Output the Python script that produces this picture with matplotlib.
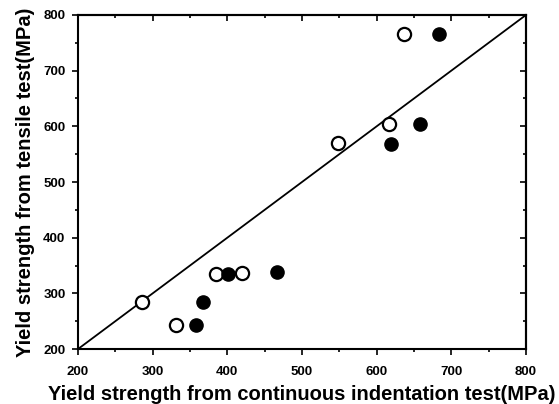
import matplotlib
matplotlib.use("Agg")
import matplotlib.pyplot as plt
from matplotlib.ticker import MultipleLocator

# open circles
open_x = [286, 331, 385, 420, 548, 616, 637]
open_y = [285, 244, 335, 337, 570, 605, 765]
# filled circles
filled_x = [358, 368, 401, 467, 619, 658, 683]
filled_y = [244, 285, 335, 338, 569, 605, 765]
line_ends = [200, 800]

plt.rcParams['font.family'] = ['Liberation Sans', 'DejaVu Sans']
plt.rcParams['font.weight'] = 'bold'

fig = plt.figure(figsize=(5.59, 4.04), dpi=100)
ax = fig.add_axes([0.1395, 0.136, 0.8015, 0.827])

ax.plot(line_ends, line_ends, color='black', lw=1.3)
ax.plot(open_x, open_y, 'o', ms=9.5, mfc='white', mec='black', mew=1.6, ls='none')
ax.plot(filled_x, filled_y, 'o', ms=9.5, mfc='black', mec='black', ls='none')

ax.set_xlim(200, 800)
ax.set_ylim(200, 800)

def set_locs(axis):
    axis.set_major_locator(MultipleLocator(100))
    axis.set_minor_locator(MultipleLocator(50))

set_locs(ax.xaxis)
set_locs(ax.yaxis)
ax.tick_params(which='both', direction='out', width=1.2, labelsize=9.5, pad=5)
ax.tick_params(axis='x', which='major', pad=8)
ax.tick_params(which='major', length=4)
ax.tick_params(which='minor', length=2.5)

# inward ticks on top and right
top = ax.secondary_xaxis('top')
right = ax.secondary_yaxis('right')
set_locs(top.xaxis)
set_locs(right.yaxis)
for sec in (top, right):
    sec.tick_params(which='both', direction='in', width=1.2, labeltop=False, labelright=False)
    sec.tick_params(which='major', length=4)
    sec.tick_params(which='minor', length=2.5)
    for s in sec.spines.values():
        s.set_linewidth(1.5)

for s in ax.spines.values():
    s.set_linewidth(1.5)

ax.set_xlabel('Yield strength from continuous indentation test(MPa)', fontsize=14.5, fontweight='bold', labelpad=5)
ax.set_ylabel('Yield strength from tensile test(MPa)', fontsize=14.5, fontweight='bold', labelpad=6)

fig.savefig('out.png', dpi=100)
